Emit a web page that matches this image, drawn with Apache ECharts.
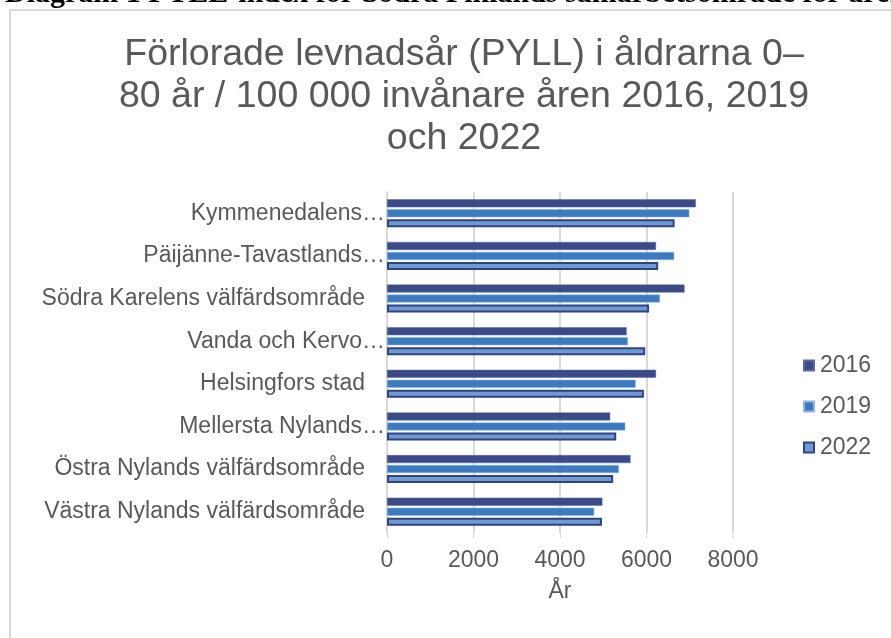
<!DOCTYPE html>
<html><head><meta charset="utf-8">
<script src="https://cdn.jsdelivr.net/npm/echarts@6/dist/echarts.min.js"></script>
<style>html,body{margin:0;padding:0;background:#fff}#c{width:891px;height:638px}</style>
</head><body><div id="c"></div>
<script>
const categories = [
  'Kymmenedalens…',
  'Päijänne-Tavastlands…',
  'Södra Karelens välfärdsområde',
  'Vanda och Kervo…',
  'Helsingfors stad',
  'Mellersta Nylands…',
  'Östra Nylands välfärdsområde',
  'Västra Nylands välfärdsområde'
];
const truncated = [true, true, false, true, false, true, false, false];
const v2016 = [7140, 6220, 6880, 5540, 6220, 5160, 5630, 4980];
const v2019 = [6990, 6640, 6310, 5570, 5750, 5510, 5360, 4790];
const v2022 = [6650, 6270, 6060, 5970, 5940, 5300, 5230, 4970];
const xTicks = [0, 2000, 4000, 6000, 8000];
const titleText = 'Förlorade levnadsår (PYLL) i åldrarna 0–\n80 år / 100 000 invånare åren 2016, 2019\noch 2022';
const captionText = 'Diagram 1 PYLL-index för Södra Finlands samarbetsområde för åren 2016, 2019 och 2022';

const chart = echarts.init(document.getElementById('c'), null, {renderer: 'canvas'});
const txt = '#595959';
const font = 'Liberation Sans, Arial, sans-serif';
chart.setOption({
  backgroundColor: '#fff',
  animation: false,
  textStyle: {fontFamily: font},
  graphic: [
    {type: 'rect', shape: {x: 10, y: 10, width: 900, height: 650}, style: {fill: 'none', stroke: '#d9d9d9', lineWidth: 2}, silent: true},
    {type: 'text', x: 5, y: 9, style: {text: captionText, font: 'bold 30px "Liberation Serif", "Times New Roman", serif', fill: '#000', verticalAlign: 'bottom'}}
  ],
  title: {
    text: titleText, left: 459, top: 29, textAlign: 'center',
    textStyle: {fontFamily: font, fontSize: 37.5, fontWeight: 'normal', color: txt, lineHeight: 42}
  },
  legend: {
    orient: 'vertical', left: 798, top: 349, itemGap: 18, itemWidth: 10, itemHeight: 10,
    icon: 'rect',
    textStyle: {color: txt, fontSize: 23, fontFamily: font, padding: [0, 0, 0, 1]},
    data: ['2016', '2019', '2022']
  },
  grid: {left: 387, right: 158, top: 192, bottom: 105, containLabel: false},
  xAxis: {
    type: 'value', min: xTicks[0], max: xTicks[xTicks.length - 1], interval: 2000,
    name: 'År', nameLocation: 'middle', nameGap: 47,
    nameTextStyle: {color: txt, fontSize: 23, fontFamily: font},
    axisLine: {show: false},
    axisTick: {show: true, length: 5, lineStyle: {color: '#d9d9d9', width: 1}},
    axisLabel: {color: txt, fontSize: 23, margin: 16, fontFamily: font,
      formatter: function (v) { return String(v); }},
    splitLine: {show: true, lineStyle: {color: '#d9d9d9', width: 2}}
  },
  yAxis: {
    type: 'category', data: categories, inverse: true,
    axisLine: {show: true, lineStyle: {color: '#d9d9d9', width: 2}},
    axisTick: {show: false},
    axisLabel: {
      color: txt, fontSize: 23, margin: 2, fontFamily: font,
      formatter: function (v, i) { return truncated[i] ? '{t|' + v + '}' : '{f|' + v + '}'; },
      rich: {
        t: {color: txt, fontSize: 23, fontFamily: font},
        f: {color: txt, fontSize: 23, fontFamily: font, padding: [0, 20, 0, 0]}
      }
    }
  },
  series: [
    {name: '2016', type: 'bar', data: v2016, barWidth: 8, barGap: '25%',
     itemStyle: {color: '#3a4b87', borderColor: '#5a6aa0', borderWidth: 0.5}},
    {name: '2019', type: 'bar', data: v2019, barWidth: 8, barGap: '25%',
     itemStyle: {color: '#3d7bc1', borderColor: '#8fb4e0', borderWidth: 0.5}},
    {name: '2022', type: 'bar', data: v2022, barWidth: 8, barGap: '25%',
     itemStyle: {color: '#6e9ad3', borderColor: '#33437f', borderWidth: 2}}
  ]
});
</script></body></html>
